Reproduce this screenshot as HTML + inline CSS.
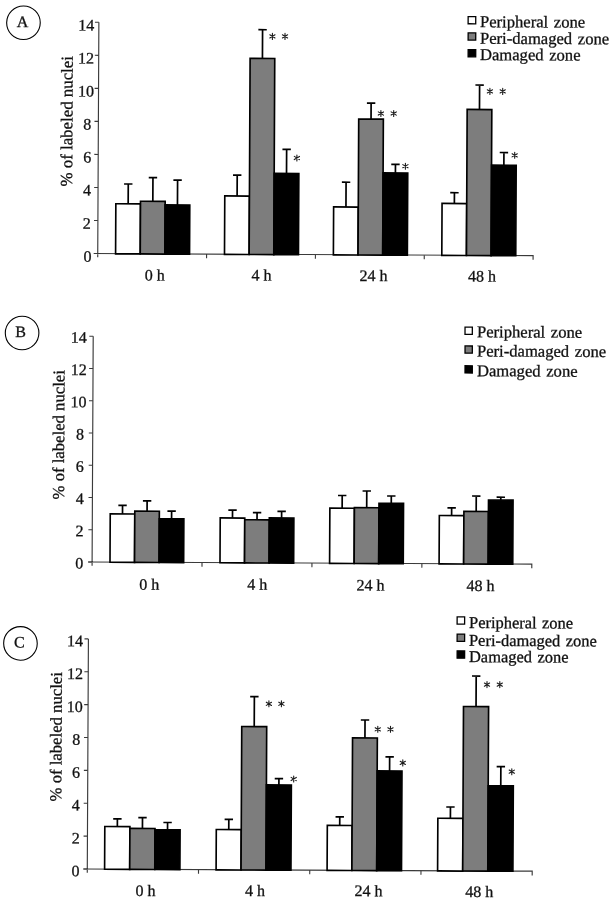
<!DOCTYPE html>
<html><head><meta charset="utf-8"><title>Figure</title>
<style>
html,body{margin:0;padding:0;background:#fff;}
body{width:611px;height:900px;overflow:hidden;}
svg{display:block;will-change:transform;}
text{font-family:"Liberation Serif",serif;fill:#111;stroke:#111;stroke-width:0.3px;}
</style></head><body>
<svg width="611" height="900" viewBox="0 0 611 900">
<rect width="611" height="900" fill="#fff"/>
<g transform="rotate(0.28 305.5 450.0)">
<path d="M96.78 23.32V258.35M92.88 254.55H532.15V258.75" fill="none" stroke="#3a3a3a" stroke-width="1.15"/>
<path d="M92.88 254.55H96.78" stroke="#3a3a3a" stroke-width="1.1"/>
<text x="90.68" y="262.75" font-size="16" text-anchor="end">0</text>
<path d="M92.88 221.52H96.78" stroke="#3a3a3a" stroke-width="1.1"/>
<text x="89.78" y="229.72" font-size="16" text-anchor="end">2</text>
<path d="M92.88 188.49H96.78" stroke="#3a3a3a" stroke-width="1.1"/>
<text x="89.78" y="196.69" font-size="16" text-anchor="end">4</text>
<path d="M92.88 155.45H96.78" stroke="#3a3a3a" stroke-width="1.1"/>
<text x="89.78" y="163.65" font-size="16" text-anchor="end">6</text>
<path d="M92.88 122.42H96.78" stroke="#3a3a3a" stroke-width="1.1"/>
<text x="89.78" y="130.62" font-size="16" text-anchor="end">8</text>
<path d="M92.88 89.38H96.78" stroke="#3a3a3a" stroke-width="1.1"/>
<text x="92.18" y="97.58" font-size="16" text-anchor="end">10</text>
<path d="M92.88 56.35H96.78" stroke="#3a3a3a" stroke-width="1.1"/>
<text x="92.18" y="64.55" font-size="16" text-anchor="end">12</text>
<path d="M92.88 23.32H96.78" stroke="#3a3a3a" stroke-width="1.1"/>
<text x="92.18" y="31.52" font-size="16" text-anchor="end">14</text>
<path d="M205.62 254.55V258.75" stroke="#3a3a3a" stroke-width="1.1"/>
<path d="M314.46 254.55V258.75" stroke="#3a3a3a" stroke-width="1.1"/>
<path d="M423.31 254.55V258.75" stroke="#3a3a3a" stroke-width="1.1"/>
<path d="M126.97 204.67V184.87M122.77 184.87H131.17" stroke="#000" stroke-width="1.7" fill="none"/>
<rect x="114.64" y="204.67" width="24.65" height="50.08" fill="#fff" stroke="#000" stroke-width="1.65"/>
<path d="M151.62 202.05V178.45M147.42 178.45H155.82" stroke="#000" stroke-width="1.7" fill="none"/>
<rect x="139.29" y="202.05" width="24.65" height="52.70" fill="#7d7d7d" stroke="#000" stroke-width="1.65"/>
<path d="M176.27 205.63V180.73M172.07 180.73H180.47" stroke="#000" stroke-width="1.7" fill="none"/>
<rect x="163.94" y="205.63" width="24.65" height="49.12" fill="#000" stroke="#000" stroke-width="1.65"/>
<path d="M235.87 196.34V175.44M231.67 175.44H240.07" stroke="#000" stroke-width="1.7" fill="none"/>
<rect x="223.54" y="196.34" width="24.65" height="58.42" fill="#fff" stroke="#000" stroke-width="1.65"/>
<path d="M260.52 58.62V29.92M256.32 29.92H264.72" stroke="#000" stroke-width="1.7" fill="none"/>
<rect x="248.19" y="58.62" width="24.65" height="196.13" fill="#7d7d7d" stroke="#000" stroke-width="1.65"/>
<path d="M285.17 173.60V149.40M280.97 149.40H289.37" stroke="#000" stroke-width="1.7" fill="none"/>
<rect x="272.84" y="173.60" width="24.65" height="81.16" fill="#000" stroke="#000" stroke-width="1.65"/>
<path d="M344.77 206.81V182.01M340.57 182.01H348.97" stroke="#000" stroke-width="1.7" fill="none"/>
<rect x="332.44" y="206.81" width="24.65" height="47.95" fill="#fff" stroke="#000" stroke-width="1.65"/>
<path d="M369.42 118.79V102.79M365.22 102.79H373.62" stroke="#000" stroke-width="1.7" fill="none"/>
<rect x="357.09" y="118.79" width="24.65" height="135.97" fill="#7d7d7d" stroke="#000" stroke-width="1.65"/>
<path d="M394.07 172.57V163.97M389.87 163.97H398.27" stroke="#000" stroke-width="1.7" fill="none"/>
<rect x="381.74" y="172.57" width="24.65" height="82.19" fill="#000" stroke="#000" stroke-width="1.65"/>
<path d="M453.17 202.78V191.98M448.97 191.98H457.37" stroke="#000" stroke-width="1.7" fill="none"/>
<rect x="440.85" y="202.78" width="24.65" height="51.98" fill="#fff" stroke="#000" stroke-width="1.65"/>
<path d="M477.82 108.66V84.16M473.62 84.16H482.02" stroke="#000" stroke-width="1.7" fill="none"/>
<rect x="465.50" y="108.66" width="24.65" height="146.10" fill="#7d7d7d" stroke="#000" stroke-width="1.65"/>
<path d="M502.47 164.24V151.54M498.27 151.54H506.67" stroke="#000" stroke-width="1.7" fill="none"/>
<rect x="490.15" y="164.24" width="24.65" height="90.52" fill="#000" stroke="#000" stroke-width="1.65"/>
<path d="M270.38 33.57V39.57M267.78 34.97L272.98 38.17M267.78 38.17L272.98 34.97" stroke="#1a1a1a" stroke-width="1.1" stroke-linecap="round" fill="none"/>
<path d="M282.98 33.51V39.51M280.38 34.91L285.58 38.11M280.38 38.11L285.58 34.91" stroke="#1a1a1a" stroke-width="1.1" stroke-linecap="round" fill="none"/>
<path d="M295.47 155.05V161.05M292.87 156.45L298.07 159.65M292.87 159.65L298.07 156.45" stroke="#1a1a1a" stroke-width="1.1" stroke-linecap="round" fill="none"/>
<path d="M379.25 110.14V116.14M376.65 111.54L381.85 114.74M376.65 114.74L381.85 111.54" stroke="#1a1a1a" stroke-width="1.1" stroke-linecap="round" fill="none"/>
<path d="M392.05 110.07V116.07M389.45 111.47L394.65 114.67M389.45 114.67L394.65 111.47" stroke="#1a1a1a" stroke-width="1.1" stroke-linecap="round" fill="none"/>
<path d="M404.01 162.72V168.72M401.41 164.12L406.61 167.32M401.41 167.32L406.61 164.12" stroke="#1a1a1a" stroke-width="1.1" stroke-linecap="round" fill="none"/>
<path d="M488.15 87.50V93.50M485.55 88.90L490.75 92.10M485.55 92.10L490.75 88.90" stroke="#1a1a1a" stroke-width="1.1" stroke-linecap="round" fill="none"/>
<path d="M500.95 87.44V93.44M498.35 88.84L503.55 92.04M498.35 92.04L503.55 88.84" stroke="#1a1a1a" stroke-width="1.1" stroke-linecap="round" fill="none"/>
<path d="M513.26 151.28V157.28M510.66 152.68L515.86 155.88M510.66 155.88L515.86 152.68" stroke="#1a1a1a" stroke-width="1.1" stroke-linecap="round" fill="none"/>
<text x="143.97" y="281.19" font-size="16">0 h</text>
<text x="250.77" y="280.67" font-size="16">4 h</text>
<text x="358.57" y="280.64" font-size="16">24 h</text>
<text x="467.27" y="280.71" font-size="16">48 h</text>
<text transform="translate(70.80 122.44) rotate(-90)" font-size="16.85" text-anchor="middle">% of labeled nuclei</text>
<circle cx="21.37" cy="24.13" r="16.8" fill="none" stroke="#000" stroke-width="1.1"/>
<text x="20.59" y="28.39" font-size="16" text-anchor="middle">A</text>
<rect x="466.03" y="15.76" width="7.60" height="7.20" fill="#fff" stroke="#000" stroke-width="1.3"/>
<text x="477.93" y="26.25" font-size="16.6" word-spacing="1.5">Peripheral zone</text>
<rect x="466.11" y="32.06" width="7.60" height="7.20" fill="#7d7d7d" stroke="#000" stroke-width="1.3"/>
<text x="478.01" y="42.85" font-size="16.6" word-spacing="1.5">Peri-damaged zone</text>
<rect x="466.19" y="48.76" width="7.60" height="7.20" fill="#000" stroke="#000" stroke-width="1.3"/>
<text x="478.09" y="59.25" font-size="16.6" word-spacing="1.5">Damaged zone</text>
<path d="M92.65 337.24V566.82M88.75 563.02H532.36V567.22" fill="none" stroke="#3a3a3a" stroke-width="1.15"/>
<path d="M88.75 563.02H92.65" stroke="#3a3a3a" stroke-width="1.1"/>
<text x="83.95" y="569.72" font-size="16" text-anchor="end">0</text>
<path d="M88.75 530.76H92.65" stroke="#3a3a3a" stroke-width="1.1"/>
<text x="83.95" y="537.46" font-size="16" text-anchor="end">2</text>
<path d="M88.75 498.51H92.65" stroke="#3a3a3a" stroke-width="1.1"/>
<text x="83.95" y="505.21" font-size="16" text-anchor="end">4</text>
<path d="M88.75 466.25H92.65" stroke="#3a3a3a" stroke-width="1.1"/>
<text x="83.95" y="472.95" font-size="16" text-anchor="end">6</text>
<path d="M88.75 434.00H92.65" stroke="#3a3a3a" stroke-width="1.1"/>
<text x="83.95" y="440.70" font-size="16" text-anchor="end">8</text>
<path d="M88.75 401.75H92.65" stroke="#3a3a3a" stroke-width="1.1"/>
<text x="86.35" y="408.45" font-size="16" text-anchor="end">10</text>
<path d="M88.75 369.49H92.65" stroke="#3a3a3a" stroke-width="1.1"/>
<text x="86.35" y="376.19" font-size="16" text-anchor="end">12</text>
<path d="M88.75 337.24H92.65" stroke="#3a3a3a" stroke-width="1.1"/>
<text x="86.35" y="343.94" font-size="16" text-anchor="end">14</text>
<path d="M202.57 563.02V567.22" stroke="#3a3a3a" stroke-width="1.1"/>
<path d="M312.50 563.02V567.22" stroke="#3a3a3a" stroke-width="1.1"/>
<path d="M422.43 563.02V567.22" stroke="#3a3a3a" stroke-width="1.1"/>
<path d="M122.82 514.79V506.19M118.62 506.19H127.02" stroke="#000" stroke-width="1.7" fill="none"/>
<rect x="110.55" y="514.79" width="24.55" height="48.42" fill="#fff" stroke="#000" stroke-width="1.65"/>
<path d="M147.37 511.97V501.67M143.17 501.67H151.57" stroke="#000" stroke-width="1.7" fill="none"/>
<rect x="135.10" y="511.97" width="24.55" height="51.24" fill="#7d7d7d" stroke="#000" stroke-width="1.65"/>
<path d="M171.92 519.45V511.85M167.72 511.85H176.12" stroke="#000" stroke-width="1.7" fill="none"/>
<rect x="159.65" y="519.45" width="24.55" height="43.76" fill="#000" stroke="#000" stroke-width="1.65"/>
<path d="M232.83 518.36V510.56M228.63 510.56H237.03" stroke="#000" stroke-width="1.7" fill="none"/>
<rect x="220.55" y="518.36" width="24.55" height="44.86" fill="#fff" stroke="#000" stroke-width="1.65"/>
<path d="M257.38 520.04V512.94M253.18 512.94H261.58" stroke="#000" stroke-width="1.7" fill="none"/>
<rect x="245.10" y="520.04" width="24.55" height="43.18" fill="#7d7d7d" stroke="#000" stroke-width="1.65"/>
<path d="M281.93 518.12V511.52M277.73 511.52H286.13" stroke="#000" stroke-width="1.7" fill="none"/>
<rect x="269.65" y="518.12" width="24.55" height="45.10" fill="#000" stroke="#000" stroke-width="1.65"/>
<path d="M342.43 508.02V495.32M338.23 495.32H346.63" stroke="#000" stroke-width="1.7" fill="none"/>
<rect x="330.15" y="508.02" width="24.55" height="55.20" fill="#fff" stroke="#000" stroke-width="1.65"/>
<path d="M366.98 507.40V490.70M362.78 490.70H371.18" stroke="#000" stroke-width="1.7" fill="none"/>
<rect x="354.70" y="507.40" width="24.55" height="55.82" fill="#7d7d7d" stroke="#000" stroke-width="1.65"/>
<path d="M391.53 502.88V495.58M387.33 495.58H395.73" stroke="#000" stroke-width="1.7" fill="none"/>
<rect x="379.25" y="502.88" width="24.55" height="60.34" fill="#000" stroke="#000" stroke-width="1.65"/>
<path d="M451.93 514.89V507.19M447.73 507.19H456.13" stroke="#000" stroke-width="1.7" fill="none"/>
<rect x="439.65" y="514.89" width="24.55" height="48.33" fill="#fff" stroke="#000" stroke-width="1.65"/>
<path d="M476.48 510.57V495.17M472.28 495.17H480.68" stroke="#000" stroke-width="1.7" fill="none"/>
<rect x="464.20" y="510.57" width="24.55" height="52.65" fill="#7d7d7d" stroke="#000" stroke-width="1.65"/>
<path d="M501.03 499.15V496.25M496.83 496.25H505.23" stroke="#000" stroke-width="1.7" fill="none"/>
<rect x="488.75" y="499.15" width="24.55" height="64.07" fill="#000" stroke="#000" stroke-width="1.65"/>
<text x="139.88" y="590.51" font-size="16">0 h</text>
<text x="247.98" y="590.08" font-size="16">4 h</text>
<text x="357.09" y="590.15" font-size="16">24 h</text>
<text x="467.09" y="590.21" font-size="16">48 h</text>
<text transform="translate(64.13 435.98) rotate(-90)" font-size="16.7" text-anchor="middle">% of labeled nuclei</text>
<circle cx="21.53" cy="334.39" r="16.8" fill="none" stroke="#000" stroke-width="1.1"/>
<text x="20.15" y="338.39" font-size="16" text-anchor="middle">B</text>
<rect x="464.44" y="326.37" width="7.30" height="7.20" fill="#fff" stroke="#000" stroke-width="1.3"/>
<text x="476.45" y="336.36" font-size="16.6" word-spacing="1.5">Peripheral zone</text>
<rect x="464.54" y="345.17" width="7.30" height="7.20" fill="#7d7d7d" stroke="#000" stroke-width="1.3"/>
<text x="476.54" y="355.56" font-size="16.6" word-spacing="1.5">Peri-damaged zone</text>
<rect x="464.63" y="364.97" width="7.30" height="7.20" fill="#000" stroke="#000" stroke-width="1.3"/>
<text x="476.64" y="375.36" font-size="16.6" word-spacing="1.5">Damaged zone</text>
<path d="M89.34 639.96V873.87M85.44 870.07H534.26V874.27" fill="none" stroke="#3a3a3a" stroke-width="1.15"/>
<path d="M85.44 870.07H89.34" stroke="#3a3a3a" stroke-width="1.1"/>
<text x="81.64" y="877.47" font-size="16" text-anchor="end">0</text>
<path d="M85.44 837.20H89.34" stroke="#3a3a3a" stroke-width="1.1"/>
<text x="81.64" y="844.60" font-size="16" text-anchor="end">2</text>
<path d="M85.44 804.33H89.34" stroke="#3a3a3a" stroke-width="1.1"/>
<text x="81.64" y="811.73" font-size="16" text-anchor="end">4</text>
<path d="M85.44 771.45H89.34" stroke="#3a3a3a" stroke-width="1.1"/>
<text x="81.64" y="778.85" font-size="16" text-anchor="end">6</text>
<path d="M85.44 738.58H89.34" stroke="#3a3a3a" stroke-width="1.1"/>
<text x="81.64" y="745.98" font-size="16" text-anchor="end">8</text>
<path d="M85.44 705.71H89.34" stroke="#3a3a3a" stroke-width="1.1"/>
<text x="84.04" y="713.11" font-size="16" text-anchor="end">10</text>
<path d="M85.44 672.83H89.34" stroke="#3a3a3a" stroke-width="1.1"/>
<text x="84.04" y="680.23" font-size="16" text-anchor="end">12</text>
<path d="M85.44 639.96H89.34" stroke="#3a3a3a" stroke-width="1.1"/>
<text x="84.04" y="647.36" font-size="16" text-anchor="end">14</text>
<path d="M200.57 870.07V874.27" stroke="#3a3a3a" stroke-width="1.1"/>
<path d="M311.80 870.07V874.27" stroke="#3a3a3a" stroke-width="1.1"/>
<path d="M423.03 870.07V874.27" stroke="#3a3a3a" stroke-width="1.1"/>
<path d="M119.20 827.52V819.72M115.00 819.72H123.40" stroke="#000" stroke-width="1.7" fill="none"/>
<rect x="106.65" y="827.52" width="25.10" height="42.76" fill="#fff" stroke="#000" stroke-width="1.65"/>
<path d="M144.30 829.19V818.39M140.10 818.39H148.50" stroke="#000" stroke-width="1.7" fill="none"/>
<rect x="131.75" y="829.19" width="25.10" height="41.08" fill="#7d7d7d" stroke="#000" stroke-width="1.65"/>
<path d="M169.40 830.47V823.17M165.20 823.17H173.60" stroke="#000" stroke-width="1.7" fill="none"/>
<rect x="156.85" y="830.47" width="25.10" height="39.80" fill="#000" stroke="#000" stroke-width="1.65"/>
<path d="M230.63 829.97V819.67M226.43 819.67H234.83" stroke="#000" stroke-width="1.7" fill="none"/>
<rect x="218.15" y="829.97" width="24.95" height="40.30" fill="#fff" stroke="#000" stroke-width="1.65"/>
<path d="M255.58 726.85V696.95M251.38 696.95H259.78" stroke="#000" stroke-width="1.7" fill="none"/>
<rect x="243.10" y="726.85" width="24.95" height="143.42" fill="#7d7d7d" stroke="#000" stroke-width="1.65"/>
<path d="M280.53 785.13V778.83M276.33 778.83H284.73" stroke="#000" stroke-width="1.7" fill="none"/>
<rect x="268.05" y="785.13" width="24.95" height="85.15" fill="#000" stroke="#000" stroke-width="1.65"/>
<path d="M341.55 825.23V816.63M337.35 816.63H345.75" stroke="#000" stroke-width="1.7" fill="none"/>
<rect x="329.15" y="825.23" width="24.80" height="45.04" fill="#fff" stroke="#000" stroke-width="1.65"/>
<path d="M366.35 737.61V719.71M362.15 719.71H370.55" stroke="#000" stroke-width="1.7" fill="none"/>
<rect x="353.95" y="737.61" width="24.80" height="132.66" fill="#7d7d7d" stroke="#000" stroke-width="1.65"/>
<path d="M391.15 770.59V756.39M386.95 756.39H395.35" stroke="#000" stroke-width="1.7" fill="none"/>
<rect x="378.75" y="770.59" width="24.80" height="99.69" fill="#000" stroke="#000" stroke-width="1.65"/>
<path d="M452.20 817.59V806.29M448.00 806.29H456.40" stroke="#000" stroke-width="1.7" fill="none"/>
<rect x="439.65" y="817.59" width="25.10" height="52.69" fill="#fff" stroke="#000" stroke-width="1.65"/>
<path d="M477.30 705.77V675.17M473.10 675.17H481.50" stroke="#000" stroke-width="1.7" fill="none"/>
<rect x="464.75" y="705.77" width="25.10" height="164.51" fill="#7d7d7d" stroke="#000" stroke-width="1.65"/>
<path d="M502.40 784.84V765.74M498.20 765.74H506.60" stroke="#000" stroke-width="1.7" fill="none"/>
<rect x="489.85" y="784.84" width="25.10" height="85.43" fill="#000" stroke="#000" stroke-width="1.65"/>
<path d="M270.14 700.98V706.98M267.54 702.38L272.74 705.58M267.54 705.58L272.74 702.38" stroke="#1a1a1a" stroke-width="1.1" stroke-linecap="round" fill="none"/>
<path d="M282.64 700.91V706.91M280.04 702.31L285.24 705.51M280.04 705.51L285.24 702.31" stroke="#1a1a1a" stroke-width="1.1" stroke-linecap="round" fill="none"/>
<path d="M295.31 776.05V782.05M292.71 777.45L297.91 780.65M292.71 780.65L297.91 777.45" stroke="#1a1a1a" stroke-width="1.1" stroke-linecap="round" fill="none"/>
<path d="M379.16 725.94V731.94M376.56 727.34L381.76 730.54M376.56 730.54L381.76 727.34" stroke="#1a1a1a" stroke-width="1.1" stroke-linecap="round" fill="none"/>
<path d="M391.86 725.88V731.88M389.26 727.28L394.46 730.48M389.26 730.48L394.46 727.28" stroke="#1a1a1a" stroke-width="1.1" stroke-linecap="round" fill="none"/>
<path d="M404.33 759.42V765.42M401.73 760.82L406.93 764.02M401.73 764.02L406.93 760.82" stroke="#1a1a1a" stroke-width="1.1" stroke-linecap="round" fill="none"/>
<path d="M488.14 680.71V686.71M485.54 682.11L490.74 685.31M485.54 685.31L490.74 682.11" stroke="#1a1a1a" stroke-width="1.1" stroke-linecap="round" fill="none"/>
<path d="M500.94 680.65V686.65M498.34 682.05L503.54 685.25M498.34 685.25L503.54 682.05" stroke="#1a1a1a" stroke-width="1.1" stroke-linecap="round" fill="none"/>
<path d="M513.37 767.69V773.69M510.77 769.09L515.97 772.29M510.77 772.29L515.97 769.09" stroke="#1a1a1a" stroke-width="1.1" stroke-linecap="round" fill="none"/>
<text x="137.78" y="896.72" font-size="16">0 h</text>
<text x="247.08" y="896.19" font-size="16">4 h</text>
<text x="356.68" y="895.86" font-size="16">24 h</text>
<text x="467.38" y="896.11" font-size="16">48 h</text>
<text transform="translate(63.00 737.99) rotate(-90)" font-size="16.7" text-anchor="middle">% of labeled nuclei</text>
<circle cx="21.40" cy="644.79" r="16.8" fill="none" stroke="#000" stroke-width="1.1"/>
<text x="20.32" y="648.90" font-size="16" text-anchor="middle">C</text>
<rect x="457.96" y="616.11" width="7.50" height="7.30" fill="#fff" stroke="#000" stroke-width="1.3"/>
<text x="469.87" y="627.20" font-size="16.45" word-spacing="1.4">Peripheral zone</text>
<rect x="458.04" y="633.31" width="7.50" height="7.30" fill="#7d7d7d" stroke="#000" stroke-width="1.3"/>
<text x="469.95" y="645.00" font-size="16.45" word-spacing="1.4">Peri-damaged zone</text>
<rect x="458.13" y="650.11" width="7.50" height="7.30" fill="#000" stroke="#000" stroke-width="1.3"/>
<text x="470.03" y="661.30" font-size="16.45" word-spacing="1.4">Damaged zone</text>
</g>
</svg>
</body></html>
